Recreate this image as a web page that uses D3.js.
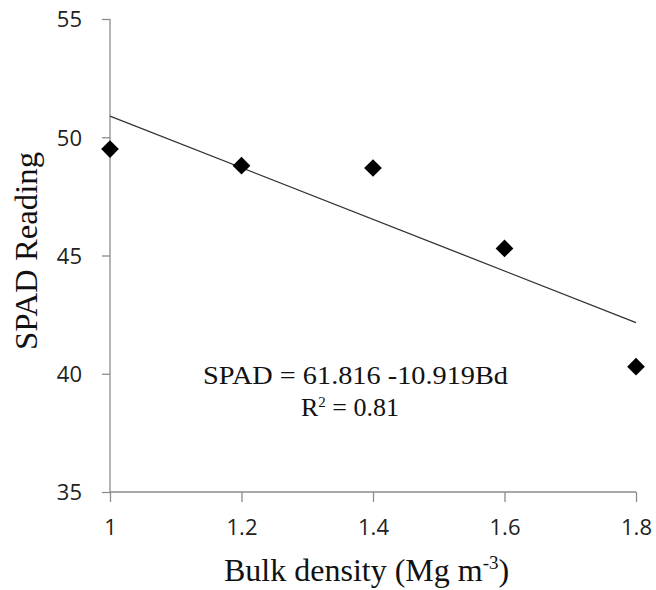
<!DOCTYPE html>
<html>
<head>
<meta charset="utf-8">
<script src="https://cdn.jsdelivr.net/npm/d3@7"></script>
<style>
  body { margin: 0; background: #fff; }
  .tick text { font-family: "Open Sans", "Noto Sans", sans-serif; font-size: 22px; fill: #222; }
  .serif { font-family: "Liberation Serif", "DejaVu Serif", serif; fill: #111; }
</style>
</head>
<body>
<svg id="chart"></svg>
<script>
const width = 656;
const height = 590;

// data
const bulkDensity = [1, 1.2, 1.4, 1.6, 1.8];
const spad = [49.5, 48.8, 48.7, 45.3, 40.3];
const xTicks = [1, 1.2, 1.4, 1.6, 1.8];
const yTicks = [35, 40, 45, 50, 55];
const intercept = 61.816;
const slope = -10.919;

const margin = { left: 110, right: 20, top: 19, bottom: 98 };

const svg = d3.select("#chart")
    .attr("width", width)
    .attr("height", height);

const x = d3.scaleLinear().domain([1, 1.8]).range([margin.left, width - margin.right]);
const y = d3.scaleLinear().domain([35, 55]).range([height - margin.bottom, margin.top]);

// y axis
const yAxis = svg.append("g")
    .attr("transform", `translate(${margin.left},0)`)
    .call(d3.axisLeft(y).tickValues(yTicks).tickSize(8).tickPadding(20).tickFormat(d3.format("d")));

// x axis
const xAxis = svg.append("g")
    .attr("transform", `translate(0,${y(35)})`)
    .call(d3.axisBottom(x).tickValues(xTicks).tickSize(10).tickPadding(17).tickFormat(d => d));

[yAxis, xAxis].forEach(a => {
    a.select(".domain").attr("stroke", "#8c8c8c").attr("stroke-width", 1.3);
    a.selectAll(".tick line").attr("stroke", "#8c8c8c").attr("stroke-width", 1.3);
});
yAxis.select(".domain").attr("d", `M0,${y(55)}V${y(35)}`);
yAxis.selectAll(".tick text").attr("dy", "0.36em");
xAxis.select(".domain").attr("d", `M${x(1)},0H${x(1.8)}`);

// trend line
svg.append("line")
    .attr("x1", x(1)).attr("y1", y(intercept + slope * 1))
    .attr("x2", x(1.8)).attr("y2", y(intercept + slope * 1.8))
    .attr("stroke", "#333")
    .attr("stroke-width", 1.3);

// markers
svg.append("g")
    .selectAll("path")
    .data(bulkDensity.map((d, i) => ({ bd: d, v: spad[i] })))
    .join("path")
    .attr("d", d3.symbol(d3.symbolDiamond2, 200)())
    .attr("transform", d => `translate(${x(d.bd)},${y(d.v)})`)
    .attr("fill", "#000");

// equation text
const eq = svg.append("g").attr("class", "serif").attr("font-size", 26);
eq.append("text")
    .attr("x", 203).attr("y", 384)
    .attr("textLength", 305)
    .attr("lengthAdjust", "spacingAndGlyphs")
    .text("SPAD = 61.816 -10.919Bd");
const r2 = eq.append("text")
    .attr("x", 301).attr("y", 416);
r2.append("tspan").text("R");
r2.append("tspan").attr("font-size", 15).attr("dy", -9).text("2");
r2.append("tspan").attr("dy", 9).text(" = 0.81");

// axis titles
svg.append("text")
    .attr("class", "serif")
    .attr("font-size", 31)
    .attr("text-anchor", "middle")
    .attr("textLength", 198)
    .attr("lengthAdjust", "spacingAndGlyphs")
    .attr("transform", `translate(37,251) rotate(-90)`)
    .text("SPAD Reading");

const xt = svg.append("text")
    .attr("class", "serif")
    .attr("font-size", 32)
    .attr("x", 224)
    .attr("y", 581);
xt.append("tspan").text("Bulk density (Mg m");
xt.append("tspan").attr("font-size", 19).attr("dy", -12).text("-3");
xt.append("tspan").attr("dy", 12).text(")");
</script>
</body>
</html>
